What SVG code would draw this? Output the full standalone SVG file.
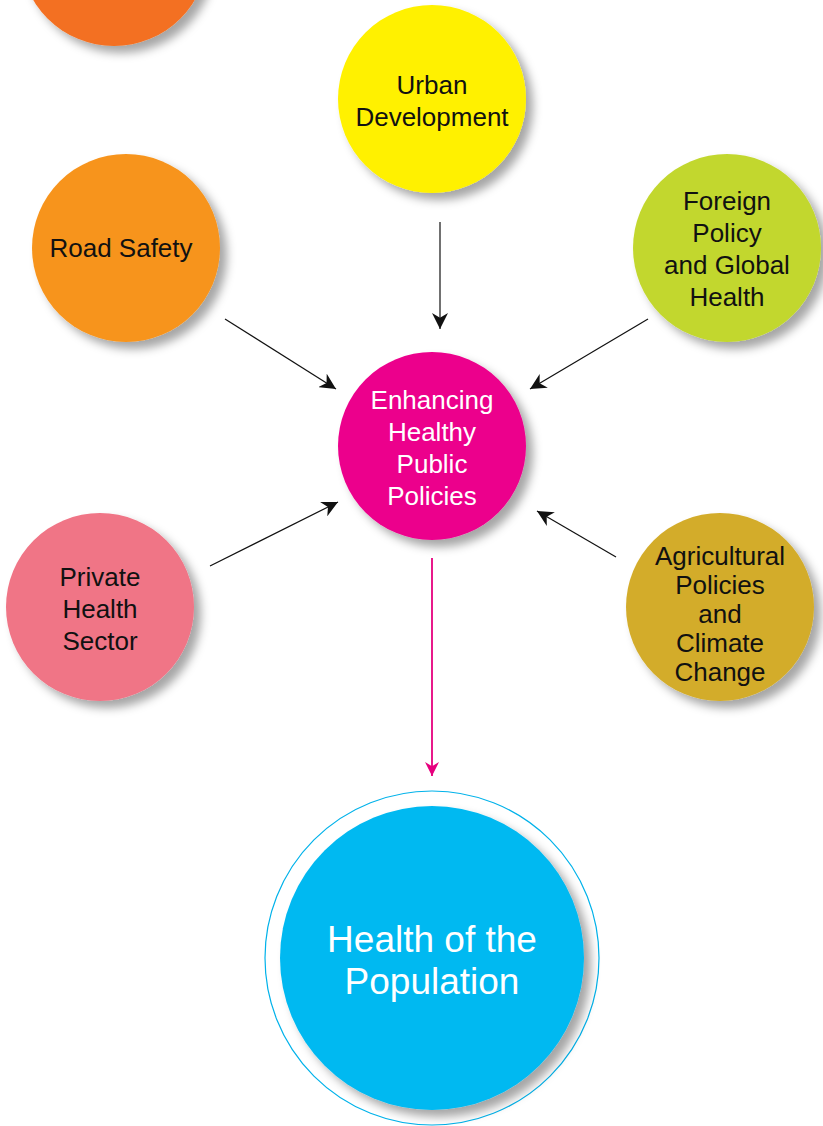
<svg xmlns="http://www.w3.org/2000/svg" width="823" height="1126" viewBox="0 0 823 1126">
<style>
text{font-family:"Liberation Sans",Arial,sans-serif;font-size:26px;text-anchor:middle;fill:#111}
.w{fill:#fff}
.big{font-size:37px}
.c{stroke:#111;stroke-width:1.2;fill:none}
</style>
<defs>
<filter id="sh" x="-30%" y="-30%" width="170%" height="170%">
<feGaussianBlur in="SourceAlpha" stdDeviation="5"/>
<feOffset dx="7" dy="7" result="b"/>
<feFlood flood-color="#000" flood-opacity="0.35"/>
<feComposite in2="b" operator="in"/>
<feMerge><feMergeNode/><feMergeNode in="SourceGraphic"/></feMerge>
</filter>
<marker id="ah" viewBox="0 0 10 10" refX="10" refY="5" markerWidth="16" markerHeight="16" markerUnits="userSpaceOnUse" orient="auto">
<path d="M0,0 L10,5 L0,10 L3,5 Z" fill="#111"/>
</marker>
<marker id="ahp" viewBox="0 0 10 10" refX="10" refY="5" markerWidth="14" markerHeight="14" markerUnits="userSpaceOnUse" orient="auto">
<path d="M0,0 L10,5 L0,10 L3,5 Z" fill="#e6007e"/>
</marker>
</defs>
<rect width="823" height="1126" fill="#fff"/>
<g id="top-orange"><circle cx="114" cy="-48" r="94" fill="#f37021" filter="url(#sh)"/></g>
<g id="urban"><circle cx="432" cy="99" r="94" fill="#fff100" filter="url(#sh)"/>
<text x="432" y="94">Urban</text><text x="432" y="126">Development</text></g>
<g id="road"><circle cx="126" cy="248" r="94" fill="#f7941d" filter="url(#sh)"/>
<text x="121" y="257">Road Safety</text></g>
<g id="foreign"><circle cx="727" cy="248" r="94" fill="#c2d72f" filter="url(#sh)"/>
<text x="727" y="210">Foreign</text><text x="727" y="242">Policy</text><text x="727" y="274">and Global</text><text x="727" y="306">Health</text></g>
<g id="enhancing"><circle cx="432" cy="446" r="94" fill="#ec008c" filter="url(#sh)"/>
<text class="w" x="432" y="409">Enhancing</text><text class="w" x="432" y="441">Healthy</text><text class="w" x="432" y="473">Public</text><text class="w" x="432" y="505">Policies</text></g>
<g id="private"><circle cx="100" cy="607" r="94" fill="#f07486" filter="url(#sh)"/>
<text x="100" y="586">Private</text><text x="100" y="618">Health</text><text x="100" y="650">Sector</text></g>
<g id="agri"><circle cx="720" cy="607" r="94" fill="#d3ac2b" filter="url(#sh)"/>
<text x="720" y="565">Agricultural</text><text x="720" y="594">Policies</text><text x="720" y="623">and</text><text x="720" y="652">Climate</text><text x="720" y="681">Change</text></g>
<g id="health"><circle cx="432" cy="958" r="167" fill="#fff" stroke="#00b2ea" stroke-width="1.2"/>
<circle cx="432" cy="958" r="152" fill="#00b9f1" filter="url(#sh)"/>
<text class="w big" x="432" y="952">Health of the</text><text class="w big" x="432" y="994">Population</text></g>
<g id="connectors">
<line class="c" x1="440" y1="222" x2="440" y2="329" marker-end="url(#ah)"/>
<line class="c" x1="225" y1="319" x2="336" y2="389" marker-end="url(#ah)"/>
<line class="c" x1="648" y1="319" x2="530" y2="389" marker-end="url(#ah)"/>
<line class="c" x1="210" y1="566" x2="338" y2="502" marker-end="url(#ah)"/>
<line class="c" x1="616" y1="557" x2="537" y2="511" marker-end="url(#ah)"/>
<line x1="432" y1="558" x2="432" y2="776" stroke="#e6007e" stroke-width="1.8" marker-end="url(#ahp)"/>
</g>
</svg>
